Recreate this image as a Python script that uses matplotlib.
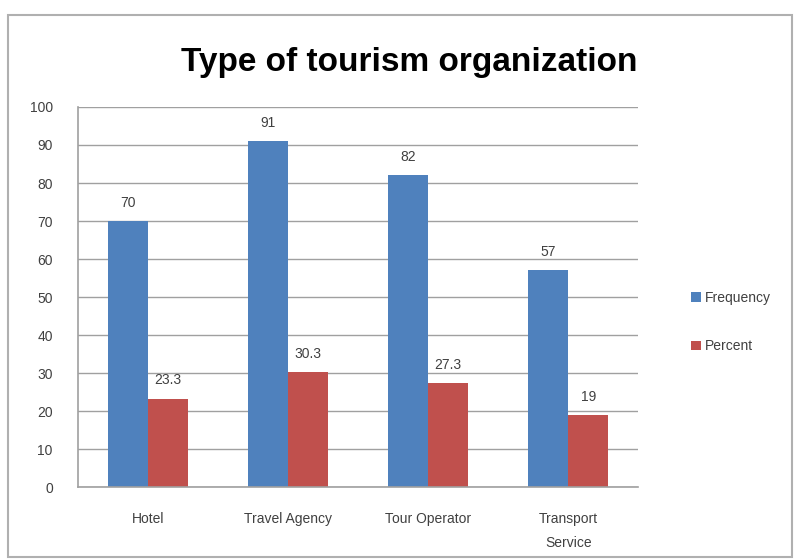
import matplotlib.pyplot as plt
import numpy as np
from matplotlib.patches import Rectangle

categories = ['Hotel', 'Travel Agency', 'Tour Operator', 'Transport\nService']
frequency = [70, 91, 82, 57]
percent = [23.3, 30.3, 27.3, 19]
yticks = list(range(0, 101, 10))

blue = '#4F81BD'
red = '#C0504D'
txt = '#404040'

plt.rcParams['font.family'] = ['Liberation Sans', 'DejaVu Sans']

fig = plt.figure(figsize=(7.94, 5.6), dpi=100)
ax = fig.add_axes([0.098, 0.130, 0.706, 0.679])

# outer chart frame
fig.patches.append(Rectangle((0.010, 0.005), 0.988, 0.968, transform=fig.transFigure,
                             fill=False, edgecolor='#b0b0b0', linewidth=1.5))

x = np.arange(len(categories))
w = 0.286
b1 = ax.bar(x - w / 2, frequency, w, color=blue, label='Frequency')
b2 = ax.bar(x + w / 2, percent, w, color=red, label='Percent')

for bars, vals in ((b1, frequency), (b2, percent)):
    for rect, v in zip(bars, vals):
        ax.text(rect.get_x() + rect.get_width() / 2, v + 3, f'{v:g}',
                ha='center', va='bottom', fontsize=10, color=txt)

ax.set_xlim(-0.5, len(categories) - 0.5)
ax.set_ylim(0, 100)
ax.set_yticks(yticks)
ax.set_xticks(x)
ax.set_xticklabels(categories, fontsize=10, color=txt, linespacing=1.85)
ax.tick_params(axis='y', labelsize=10, labelcolor=txt, length=0, pad=18)
ax.tick_params(axis='x', length=0, pad=18)
ax.yaxis.grid(True, color='#a0a0a0', linewidth=1)
ax.set_axisbelow(True)
for s in ('top', 'right'):
    ax.spines[s].set_visible(False)
for s in ('left', 'bottom'):
    ax.spines[s].set_color('#a0a0a0')
    ax.spines[s].set_linewidth(1.2)

fig.text(0.516, 0.889, 'Type of tourism organization', ha='center', va='center',
         fontsize=24, fontweight='bold', color='black')

fig.legend(handles=[b1, b2], loc='center left', bbox_to_anchor=(0.855, 0.425),
           frameon=False, fontsize=10, labelcolor=txt, handlelength=0.7,
           handleheight=0.7, handletextpad=0.3, labelspacing=2.5)

fig.savefig('out.png', dpi=100)
